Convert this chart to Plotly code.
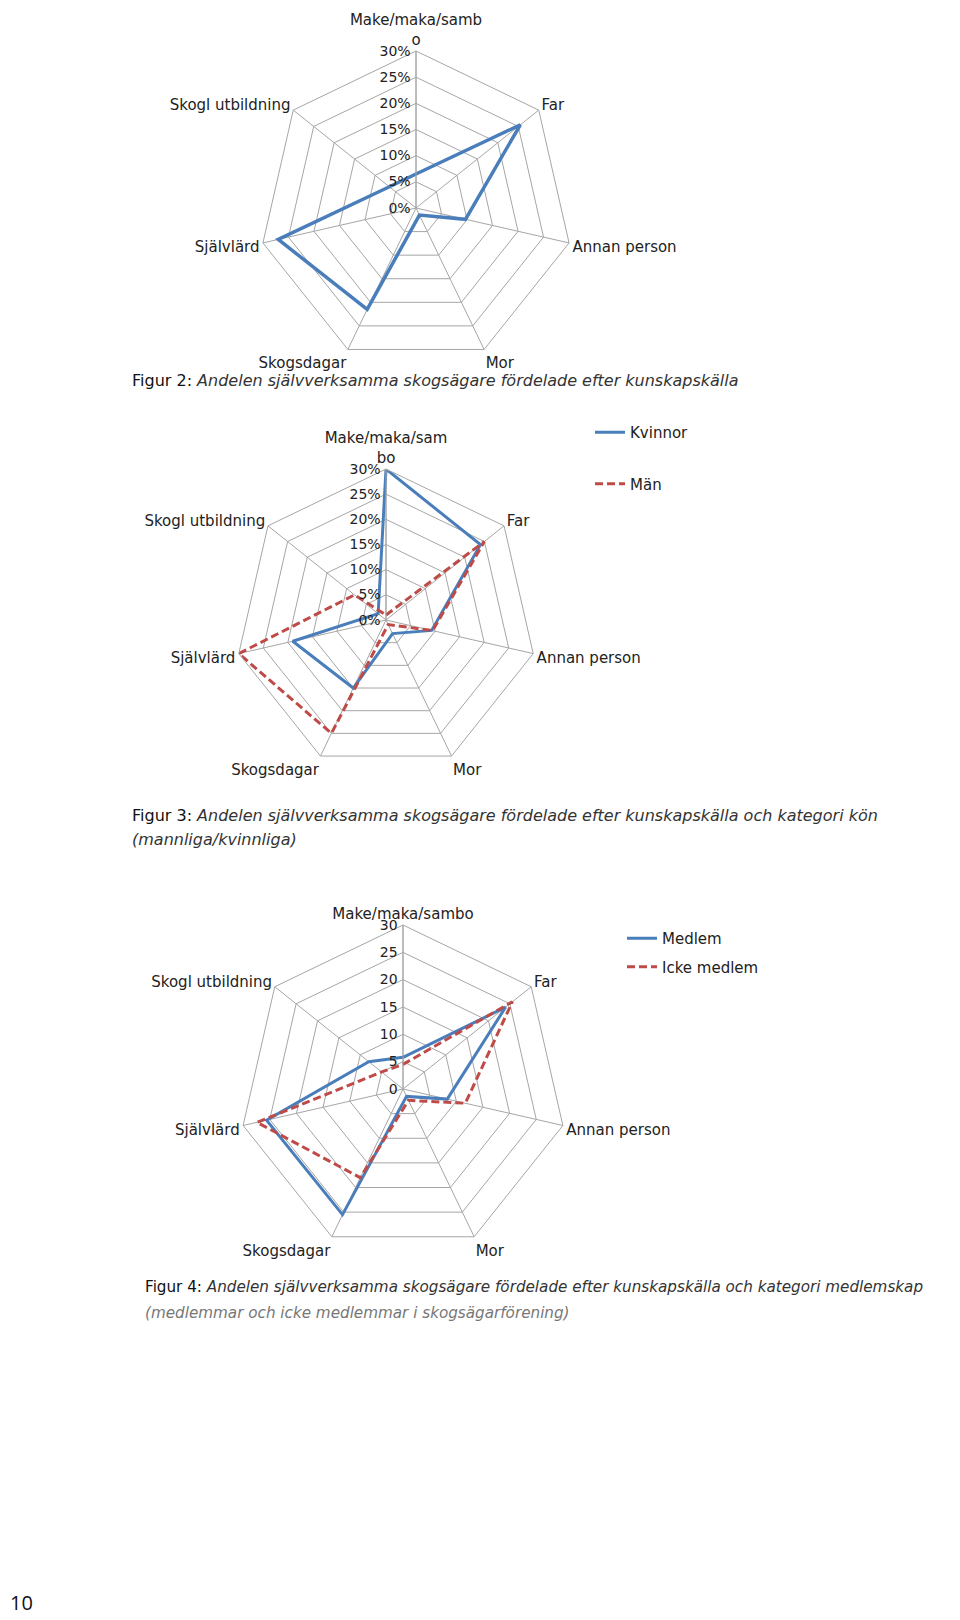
import plotly.graph_objects as go

# ---------------- data ----------------
categories = ["Make/maka/sambo", "Far", "Annan person", "Mor",
              "Skogsdagar", "Självlärd", "Skogl utbildning"]
top_label_fig2 = "Make/maka/samb<br>o"
top_label_fig3 = "Make/maka/sam<br>bo"
top_label_fig4 = "Make/maka/sambo"

fig2_values = [6.5, 25.5, 9.7, 1.5, 21.5, 27.0, 6.5]

fig3_kvinnor = [30.0, 24.0, 9.3, 3.0, 15.0, 19.0, 2.0]
fig3_man = [1.0, 25.0, 9.5, 1.0, 25.0, 30.0, 8.0]

fig4_medlem = [5.8, 24.0, 8.3, 1.5, 25.5, 25.6, 8.0]
fig4_icke = [4.5, 25.6, 11.7, 2.3, 18.0, 27.4, 5.0]

radial_ticks = [0, 5, 10, 15, 20, 25, 30]
radial_text_pct = ["0%", "5%", "10%", "15%", "20%", "25%", "30%"]
radial_text_num = ["0", "5", "10", "15", "20", "25", "30"]

caption2_a = "Figur 2: "
caption2_b = "Andelen självverksamma skogsägare fördelade efter kunskapskälla"
caption3_a = "Figur 3: "
caption3_b = "Andelen självverksamma skogsägare fördelade efter kunskapskälla och kategori kön"
caption3_c = "(mannliga/kvinnliga)"
caption4_a = "Figur 4: "
caption4_b = "Andelen självverksamma skogsägare fördelade efter kunskapskälla och kategori medlemskap"
caption4_c = "(medlemmar och icke medlemmar i skogsägarförening)"
page_number = "10"

# ---------------- style ----------------
W, H = 960, 1620
BLUE = "#4a7ebb"
RED = "#be4b48"
GRID = "#a6a6a6"
FONT = "DejaVu Sans"


def closed(lst):
    return list(lst) + [lst[0]]


def labels(top):
    return [top] + categories[1:]


fig = go.Figure()

# Figure 2
th2 = labels(top_label_fig2)
fig.add_trace(go.Scatterpolar(r=closed(fig2_values), theta=closed(th2),
                              mode="lines", line=dict(color=BLUE, width=3.5),
                              subplot="polar", showlegend=False))

# Figure 3
th3 = labels(top_label_fig3)
fig.add_trace(go.Scatterpolar(r=closed(fig3_kvinnor), theta=closed(th3),
                              mode="lines", name="Kvinnor",
                              line=dict(color=BLUE, width=3),
                              subplot="polar2", legend="legend", legendgroup="k"))
fig.add_trace(go.Scatterpolar(r=closed(fig3_man), theta=closed(th3),
                              mode="lines", name="Män",
                              line=dict(color=RED, width=3, dash="8px,4px"),
                              subplot="polar2", legend="legend", legendgroup="m"))

# Figure 4
th4 = labels(top_label_fig4)
fig.add_trace(go.Scatterpolar(r=closed(fig4_medlem), theta=closed(th4),
                              mode="lines", name="Medlem",
                              line=dict(color=BLUE, width=3),
                              subplot="polar3", legend="legend2", legendgroup="a"))
fig.add_trace(go.Scatterpolar(r=closed(fig4_icke), theta=closed(th4),
                              mode="lines", name="Icke medlem",
                              line=dict(color=RED, width=3, dash="8px,4px"),
                              subplot="polar3", legend="legend2", legendgroup="b"))


def polar_layout(cx, cy, r, ticktext, th):
    return dict(
        domain=dict(x=[(cx - r) / W, (cx + r) / W],
                    y=[1 - (cy + r) / H, 1 - (cy - r) / H]),
        bgcolor="white",
        gridshape="linear",
        radialaxis=dict(range=[0, 30], tickmode="array", tickvals=radial_ticks,
                        ticktext=ticktext,
                        angle=90, side="counterclockwise", tickangle=90,
                        showline=True, linecolor=GRID, linewidth=1,
                        gridcolor=GRID, gridwidth=1, ticks="",
                        tickfont=dict(family=FONT, size=14, color="#222")),
        angularaxis=dict(direction="clockwise", rotation=90,
                         categoryorder="array", categoryarray=th,
                         showline=True, linecolor=GRID, linewidth=1,
                         gridcolor=GRID, gridwidth=1, ticks="",
                         tickfont=dict(family=FONT, size=15, color="#222")),
    )


fig.update_layout(
    width=W, height=H,
    margin=dict(l=0, r=0, t=0, b=0),
    paper_bgcolor="white",
    plot_bgcolor="white",
    font=dict(family=FONT, size=14, color="#222"),
    polar=polar_layout(408, 200, 157, radial_text_pct, th2),
    polar2=polar_layout(378, 612, 151, radial_text_pct, th3),
    polar3=polar_layout(395, 1081, 164, radial_text_num, th4),
    legend=dict(x=582 / W, y=1 - 408 / H, xanchor="left", yanchor="top",
                traceorder="grouped", tracegroupgap=29,
                font=dict(family=FONT, size=15, color="#222"),
                bgcolor="rgba(0,0,0,0)"),
    legend2=dict(x=614 / W, y=1 - 914 / H, xanchor="left", yanchor="top",
                 traceorder="grouped", tracegroupgap=6,
                 font=dict(family=FONT, size=15, color="#222"),
                 bgcolor="rgba(0,0,0,0)"),
)


def caption(x, y, text, color="#333", size=16):
    fig.add_annotation(x=x / W, y=1 - y / H, xref="paper", yref="paper",
                       xanchor="left", yanchor="middle", showarrow=False,
                       text=text, align="left",
                       font=dict(family=FONT, size=size, color=color))


caption(122, 372, "<span style='color:#111'>" + caption2_a + "</span><i>" + caption2_b + "</i>")
caption(122, 807, "<span style='color:#111'>" + caption3_a + "</span><i>" + caption3_b + "</i>")
caption(122, 831, "<i>" + caption3_c + "</i>")
caption(135, 1279, "<span style='color:#111'>" + caption4_a + "</span><i>" + caption4_b + "</i>",
        size=15.2)
caption(135, 1305, "<i>" + caption4_c + "</i>", color="#777", size=15.2)

fig.add_annotation(x=0, y=1 - 1594 / H, xref="paper", yref="paper",
                   xanchor="left", yanchor="middle", showarrow=False,
                   text=page_number,
                   font=dict(family="Open Sans", size=20, color="#111"))

fig.write_html("out.html")
